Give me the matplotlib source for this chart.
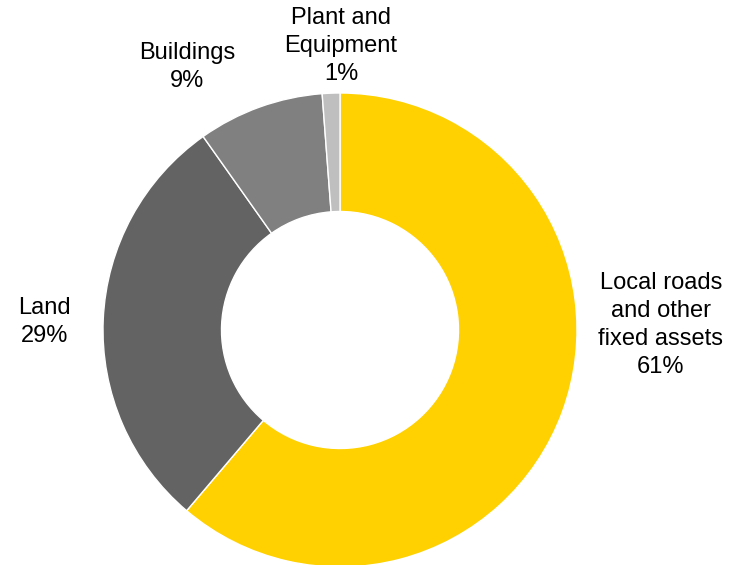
import matplotlib
matplotlib.use("Agg")
import matplotlib.pyplot as plt

categories = ["Local roads\nand other\nfixed assets", "Land", "Buildings", "Plant and\nEquipment"]
shares = [61.2, 29.0, 8.6, 1.2]
colors = ["#FFD100", "#636363", "#808080", "#BFBFBF"]
# label block centres (data units, pie radius = 1)
label_pos = [(1.354, 0.021), (-1.245, 0.034), (-0.646, 1.11), (0.004, 1.198)]

plt.rcParams['font.family'] = ['Liberation Sans', 'DejaVu Sans']

fig = plt.figure(figsize=(7.41, 5.65), dpi=100)
W, H = 741, 565
cx, cy, r = 340, 330, 237
ax = fig.add_axes([(cx - r) / W, (H - cy - r) / H, 2 * r / W, 2 * r / H])
ax.pie(shares, colors=colors, startangle=90, counterclock=False, radius=1,
       wedgeprops=dict(width=0.5, edgecolor="white", linewidth=1))
ax.set_xlim(-1, 1)
ax.set_ylim(-1, 1)
ax.set_aspect("equal")
ax.axis("off")

for cat, val, (x, y) in zip(categories, shares, label_pos):
    ax.text(x, y, f"{cat}\n{round(val)}%", ha="center", va="center",
            fontsize=17, linespacing=1.34, color="black", clip_on=False)

fig.savefig("out.png", dpi=100, facecolor="white")
